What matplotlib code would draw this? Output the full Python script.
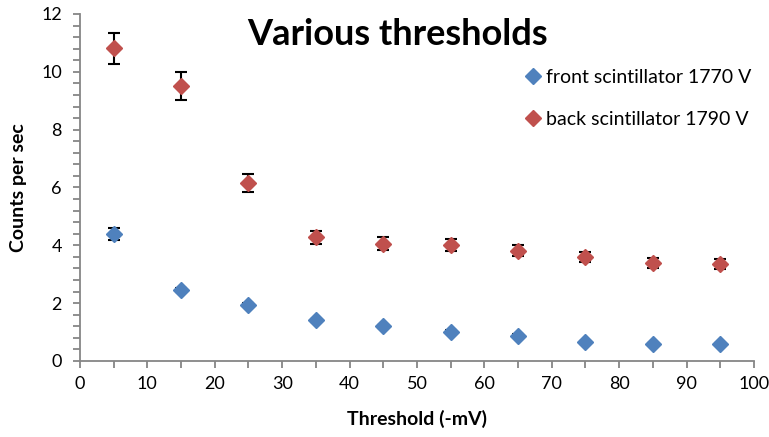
import matplotlib.pyplot as plt
from matplotlib.ticker import MultipleLocator

plt.rcParams['font.family'] = ['Lato', 'DejaVu Sans']

threshold = [5, 15, 25, 35, 45, 55, 65, 75, 85, 95]
front_counts = [4.38, 2.46, 1.95, 1.40, 1.20, 1.01, 0.87, 0.64, 0.59, 0.58]
front_err = [0.21, 0.07, 0.06, 0.06, 0.05, 0.05, 0.05, 0.04, 0.04, 0.04]
back_counts = [10.81, 9.50, 6.14, 4.27, 4.06, 4.01, 3.82, 3.60, 3.38, 3.36]
back_err = [0.54, 0.48, 0.31, 0.24, 0.22, 0.20, 0.19, 0.18, 0.17, 0.17]

blue = '#4F81BD'
red = '#C0504D'
axis_grey = '#868686'

fig = plt.figure(figsize=(7.69, 4.37), dpi=100)
ax = fig.add_axes([0.104, 0.174, 0.8765, 0.794])

for y, e, c, lab in [(front_counts, front_err, blue, 'front scintillator 1770 V'),
                     (back_counts, back_err, red, 'back scintillator 1790 V')]:
    ax.errorbar(threshold, y, yerr=e, fmt='none', ecolor='black', elinewidth=1.5,
                capsize=4, capthick=1.5, zorder=2)
    ax.plot(threshold, y, linestyle='none', marker='D', markersize=7.8,
            color=c, markeredgecolor=c, label=lab, zorder=3, clip_on=False)

ax.set_xlim(0, 100)
ax.set_ylim(0, 12)
ax.xaxis.set_major_locator(MultipleLocator(10))
ax.xaxis.set_minor_locator(MultipleLocator(5))
ax.yaxis.set_major_locator(MultipleLocator(2))
ax.yaxis.set_minor_locator(MultipleLocator(0.4))

for s in ['top', 'right']:
    ax.spines[s].set_visible(False)
for s in ['left', 'bottom']:
    ax.spines[s].set_color(axis_grey)
    ax.spines[s].set_linewidth(1.3)

ax.tick_params(which='both', direction='out', color=axis_grey, width=1.3, length=5,
               labelsize=13, labelcolor='black')
ax.tick_params(axis='x', pad=6)
ax.tick_params(axis='y', pad=8)

ax.set_xlabel('Threshold (-mV)', fontsize=14, fontweight='bold', labelpad=13)
ax.set_ylabel('Counts per sec', fontsize=14, fontweight='bold', labelpad=10)

fig.text(0.517, 0.922, 'Various thresholds', fontsize=26, fontweight='bold',
         ha='center', va='center')

ax.legend(loc='upper left', bbox_to_anchor=(0.643, 0.865), frameon=False, fontsize=14,
          handletextpad=0.1, labelspacing=1.3, handlelength=1.2, borderaxespad=0)

fig.savefig('out.png', dpi=100)
